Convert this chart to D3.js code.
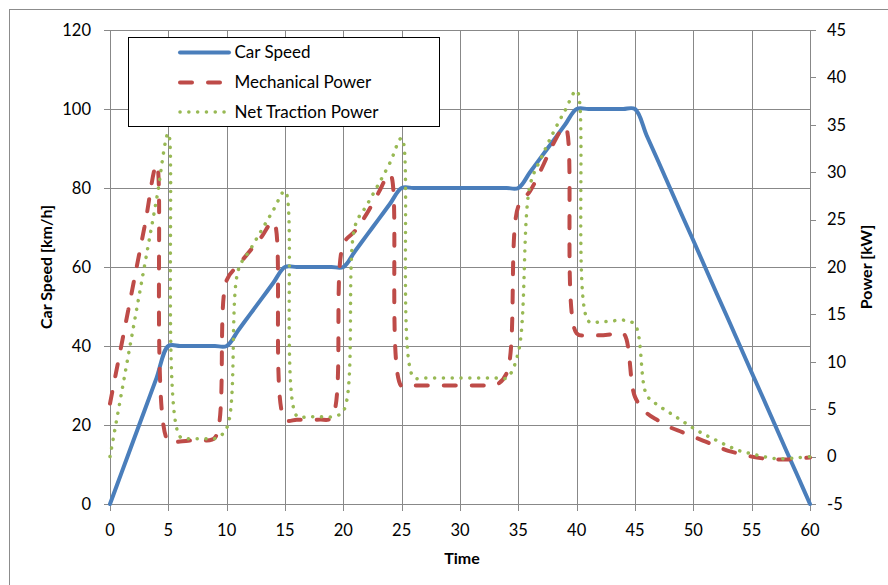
<!DOCTYPE html>
<html>
<head>
<meta charset="utf-8">
<script src="https://cdn.jsdelivr.net/npm/d3@7"></script>
<style>
  html, body { margin: 0; padding: 0; background: #fff; }
  svg { display: block; font-family: Lato, "Open Sans", sans-serif; }
</style>
</head>
<body>
<svg id="chart" width="888" height="585"></svg>
<script>
// ---- data ----
const time = [0,1,2,3,4,5,6,7,8,9,10,11,12,13,14,15,16,17,18,19,20,
  21,22,23,24,25,26,27,28,29,30,31,32,33,34,35,36,37,38,39,40,
  41,42,43,44,45,46,47,48,49,50,51,52,53,54,55,56,57,58,59,60];

const carSpeed = [0,8,16,24,32,40, 40,40,40,40,40, 44,48,52,56,60, 60,60,60,60,60,
  64,68,72,76,80, 80,80,80,80,80,80,80,80,80,80, 84,88,92,96,100,
  100,100,100,100,100, 93.3,86.7,80,73.3,66.7,60,53.3,46.7,40,33.3,26.7,20,13.3,6.7,0];

const mechanicalPower = [5.6,11.9,18.2,24.5,30.8, 1.6,1.6,1.7,1.7,2.0,
  18.6,20.2,21.7,23.2,24.8, 3.9,3.9,3.9,3.9,4.1,
  22.4,23.8,25.6,27.8,29.8, 7.4, 7.5,7.5,7.5,7.5,7.5,7.5,7.5,7.5, 8.8,
  26.4,28.0,30.4,33.0,34.8, 13.0,12.8,12.8,12.9,13.0,
  6.3,4.6,3.8,3.1,2.6,2.1,1.6,1.1,0.6,0.3,0.0,-0.2,-0.3,-0.3,-0.2,-0.1];

const netTractionPower = [0,6.8,13.6,20.4,27.2,34.1, 2.1,1.9,1.9,1.9,3.0,
  19.7,21.8,23.9,26.0,28.0, 4.3,4.2,4.2,4.2,4.8,
  24.3,26.5,28.7,31.0,33.6, 8.4, 8.3,8.3,8.3,8.3,8.3,8.3,8.3,8.3, 11.0,
  28.6,31.6,34.2,36.5,38.6, 14.3,14.2,14.3,14.4,13.9,
  6.5,5.4,4.6,3.8,3.0,2.3,1.7,1.1,0.6,0.3,0.0,-0.2,-0.2,-0.1,0.0];

const xTicks = [0,5,10,15,20,25,30,35,40,45,50,55,60];
const leftTicks = [0,20,40,60,80,100,120];
const rightTicks = [-5,0,5,10,15,20,25,30,35,40,45];
const seriesNames = ["Car Speed","Mechanical Power","Net Traction Power"];

// ---- layout ----
const svg = d3.select("#chart");
const L = 110, R = 810, T = 30, B = 504;
const gridColor = "#888888";
const x = d3.scaleLinear().domain([0,60]).range([L,R]);
const yL = d3.scaleLinear().domain([0,120]).range([B,T]);
const yR = d3.scaleLinear().domain([-5,45]).range([B,T]);

svg.append("rect").attr("width",888).attr("height",585).attr("fill","#fff");
// outer chart border
svg.append("rect").attr("x",9.5).attr("y",9.5).attr("width",900).attr("height",600)
  .attr("fill","none").attr("stroke","#8c8c8c").attr("stroke-width",1);

// gridlines
svg.append("g").selectAll("line").data(xTicks).join("line")
  .attr("x1",d=>Math.round(x(d))+0.5).attr("x2",d=>Math.round(x(d))+0.5)
  .attr("y1",T).attr("y2",B+7)
  .attr("stroke",gridColor).attr("stroke-width",1);
svg.append("g").selectAll("line").data(leftTicks).join("line")
  .attr("x1",L-6).attr("x2",R)
  .attr("y1",d=>Math.round(yL(d))+0.5).attr("y2",d=>Math.round(yL(d))+0.5)
  .attr("stroke",gridColor).attr("stroke-width",1);
// right axis tick marks
svg.append("g").selectAll("line").data(rightTicks).join("line")
  .attr("x1",R).attr("x2",R+6)
  .attr("y1",d=>Math.round(yR(d))+0.5).attr("y2",d=>Math.round(yR(d))+0.5)
  .attr("stroke",gridColor).attr("stroke-width",1);

// tick labels
const fs = 16.5;
svg.append("g").selectAll("text").data(leftTicks).join("text")
  .attr("x",91).attr("y",d=>yL(d)).attr("dy","0.35em")
  .attr("text-anchor","end").attr("font-size",fs).attr("fill","#000")
  .text(d=>d);
svg.append("g").selectAll("text").data(rightTicks).join("text")
  .attr("x",827).attr("y",d=>yR(d)).attr("dy","0.35em")
  .attr("text-anchor","start").attr("font-size",fs).attr("fill","#000")
  .text(d=>d);
svg.append("g").selectAll("text").data(xTicks).join("text")
  .attr("x",d=>x(d)).attr("y",530).attr("dy","0.35em")
  .attr("text-anchor","middle").attr("font-size",fs).attr("fill","#000")
  .text(d=>d);

// axis titles
const tfs = 16;
svg.append("text").attr("transform","translate(52,267) rotate(-90)")
  .attr("text-anchor","middle").attr("font-size",tfs).attr("font-weight","bold")
  .text("Car Speed [km/h]");
svg.append("text").attr("transform","translate(872,267) rotate(-90)")
  .attr("text-anchor","middle").attr("font-size",tfs).attr("font-weight","bold")
  .text("Power [kW]");
svg.append("text").attr("x",462).attr("y",564)
  .attr("text-anchor","middle").attr("font-size",tfs).attr("font-weight","bold")
  .text("Time");

// series
const curve = d3.curveCatmullRom.alpha(0.5);
const lineL = d3.line().x((d,i)=>x(time[i])).y(d=>yL(d)).curve(curve);
const lineR = d3.line().x((d,i)=>x(time[i])).y(d=>yR(d)).curve(curve);

const styles = [
  {color:"#4a7ebb", width:4, dash:null, cap:"round"},
  {color:"#be4b48", width:4, dash:"12,16", cap:"round"},
  {color:"#98b954", width:3.5, dash:"0.1,8.7", cap:"round"}
];

svg.append("path").datum(carSpeed).attr("d",lineL)
  .attr("fill","none").attr("stroke",styles[0].color).attr("stroke-width",styles[0].width)
  .attr("stroke-linejoin","round").attr("stroke-linecap","round");
svg.append("path").datum(mechanicalPower).attr("d",lineR)
  .attr("fill","none").attr("stroke",styles[1].color).attr("stroke-width",styles[1].width)
  .attr("stroke-dasharray",styles[1].dash).attr("stroke-linecap","round");
svg.append("path").datum(netTractionPower).attr("d",lineR)
  .attr("fill","none").attr("stroke",styles[2].color).attr("stroke-width",styles[2].width)
  .attr("stroke-dasharray",styles[2].dash).attr("stroke-linecap","round");

// legend
const lg = svg.append("g");
lg.append("rect").attr("x",128.5).attr("y",37.5).attr("width",311).attr("height",89)
  .attr("fill","#fff").attr("stroke","#000").attr("stroke-width",1);
const rows = [52.5, 82.5, 112];
seriesNames.forEach((name,i)=>{
  const s = styles[i];
  lg.append("line").attr("x1",180).attr("x2",229).attr("y1",rows[i]).attr("y2",rows[i])
    .attr("stroke",s.color).attr("stroke-width",s.width)
    .attr("stroke-dasharray",s.dash).attr("stroke-linecap",s.cap);
  lg.append("text").attr("x",234.5).attr("y",rows[i]).attr("dy","0.35em")
    .attr("font-size",17).attr("fill","#000").text(name);
});
</script>
</body>
</html>
